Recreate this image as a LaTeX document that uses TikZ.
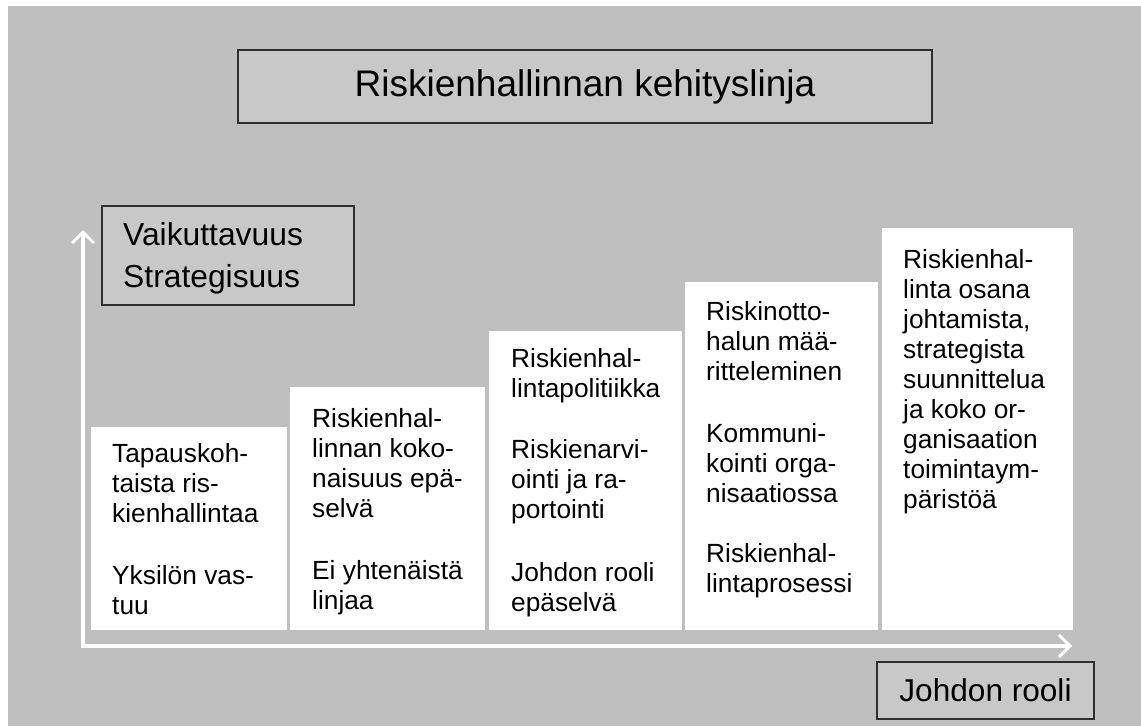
\documentclass[tikz,border=0pt]{standalone}
\usepackage{fontspec}
\setmainfont{Liberation Sans}
\usetikzlibrary{arrows.meta}
\definecolor{bg}{HTML}{BFBFBF}
\definecolor{boxfill}{HTML}{C8C8C8}
\definecolor{edge}{HTML}{2E2E2E}
\begin{document}
\begin{tikzpicture}[x=1pt,y=-1pt,
  lbox/.style={draw=edge, line width=1.3pt, fill=boxfill, inner sep=0pt},
  bar/.style={fill=white},
  bartext/.style={anchor=base west, align=left, inner sep=0pt, font=\fontsize{26.3}{30}\selectfont},
  axisline/.style={draw=white, line width=3.5pt, arrows={{Straight Barb[length=11pt,width=22pt,line width=3pt]}-{Straight Barb[length=11pt,width=22pt,line width=3pt]}}}]
\useasboundingbox (0,0) rectangle (1141,726);
\fill[white] (0,0) rectangle (1141,726);
\fill[bg] (8,6) rectangle (1141,726);

% title
\node[lbox, minimum width=694pt, minimum height=73pt, font=\fontsize{37}{44}\selectfont] (title) at (585,86.5) {Riskienhallinnan kehityslinja};

% axes
\coordinate (ytop) at (83,230);
\coordinate (origin) at (83,646);
\coordinate (xend) at (1072,646);
\draw[axisline] (ytop) -- (origin) -- (xend);

% axis labels
\node[lbox, minimum width=252pt, minimum height=99pt] (vbox) at (228,255.5) {};
\node[anchor=base west, align=left, inner sep=0pt, font=\fontsize{31.8}{42}\selectfont] (vtext) at (123,287) {Vaikuttavuus\\Strategisuus};
\node[lbox, minimum width=217pt, minimum height=57pt, font=\fontsize{31.6}{38}\selectfont] (jbox) at (985.5,690.5) {Johdon rooli};

% bars
\fill[bar] (91,427) rectangle (287,630);
\fill[bar] (290,387) rectangle (485,630);
\fill[bar] (489,331) rectangle (682,630);
\fill[bar] (685,282) rectangle (878,630);
\fill[bar] (882,228) rectangle (1073,630);

% bar texts (anchor = baseline of the last line)
\node[bartext] (t1) at (112,614) {Tapauskoh-\\taista ris-\\kienhallintaa\\[32pt]Yksilön vas-\\tuu};
\node[bartext] (t2) at (312,609) {Riskienhal-\\linnan koko-\\naisuus epä-\\selvä\\[32pt]Ei yhtenäistä\\linjaa};
\node[bartext] (t3) at (511,611) {Riskienhal-\\lintapolitiikka\\[31pt]Riskienarvi-\\ointi ja ra-\\portointi\\[33pt]Johdon rooli\\epäselvä};
\node[bartext] (t4) at (706,592) {Riskinotto-\\halun mää-\\ritteleminen\\[32pt]Kommuni-\\kointi orga-\\nisaatiossa\\[30pt]Riskienhal-\\lintaprosessi};
\node[bartext] (t5) at (903,508) {Riskienhal-\\linta osana\\johtamista,\\strategista\\suunnittelua\\ja koko or-\\ganisaation\\toimintaym-\\päristöä};
\end{tikzpicture}
\end{document}
